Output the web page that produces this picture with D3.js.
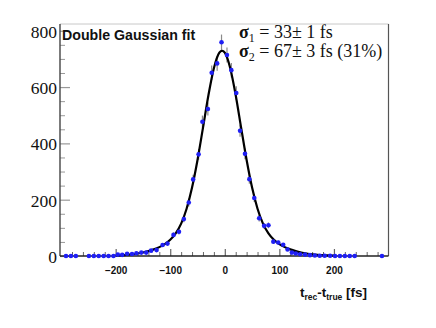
<!DOCTYPE html>
<html><head><meta charset="utf-8">
<script src="https://cdn.jsdelivr.net/npm/d3@7"></script>
<style>
html,body{margin:0;padding:0;background:#fff;}
svg{display:block;}
</style></head>
<body>
<svg id="c" width="436" height="328"></svg>
<script>
// ---- data ----
const binX = [-291,-282,-273,-249,-240,-231,-222,-213,-204,-196,-188,-179,-170,-162,-153,-144,-135,-125,-114,-105,-94,-84,-75,-66,-58,-48,-41,-31,-24,-14,-6,4,12,21,28,37,45,54,63,72,80,89,98,107,115,123,130,138,147,156,165,174,183,193,202,211,220,229,238,288];
const counts = [0,0,0,0,0,0,0,0,0,5,4,8,7,10,12,12,19,21,39,44,75,86,131,190,272,361,477,522,651,684,759,714,660,579,445,363,273,206,134,107,109,51,48,40,23,12,9,6,5,3,2,1,1,1,0,0,0,0,0,0];
const errors = [0,0,0,0,0,0,0,0,0,2.2,2,2.8,2.6,3.2,3.5,3.5,4.4,4.6,6.2,6.6,8.7,9.3,11.4,13.8,16.5,19,21.8,22.8,25.5,26.2,27.5,26.7,25.7,24.1,21.1,19.1,16.5,14.4,11.6,10.3,10.4,7.1,6.9,6.3,4.8,3.5,3,2.4,2.2,1.7,1.4,1,1,1,0,0,0,0,0,0];
const fitX = [-200,-190,-180,-170,-160,-150,-140,-130,-120,-110,-100,-90,-80,-70,-60,-50,-40,-30,-20,-10,-5,0,10,20,30,40,50,60,70,80,90,100,110,120,130,140,150,160,170,180,190,200];
const fitY = [1.9,2.9,4.3,6.3,9.0,12.6,17.4,23.5,31.5,42.2,57.5,80.4,115,168,243,341,455,571,667,722,729,722,667,571,455,341,243,168,115,80.4,57.5,42.2,31.5,23.5,17.4,12.6,9.0,6.3,4.3,2.9,1.9,1.2];
const yMajor = [0,200,400,600,800];
const yMinor = [50,100,150,250,300,350,450,500,550,650,700,750];
const xMajor = [-200,-100,0,100,200];
const xMinor = [-280,-260,-240,-220,-180,-160,-140,-120,-80,-60,-40,-20,20,40,60,80,120,140,160,180,220,240,260,280];
const titleText = "Double Gaussian fit";
const sigma1 = {sub:"1", txt:" = 33\u00B1 1 fs"};
const sigma2 = {sub:"2", txt:" = 67\u00B1 3 fs (31%)"};

// ---- drawing ----
const svg = d3.select("#c");
const L=60, R=388.5, T=24, B=256;
const x = d3.scaleLinear().domain([-302,300]).range([L,R]);
const y = d3.scaleLinear().domain([0,824]).range([B,T]);

// frame
svg.append("line").attr("x1",L).attr("x2",R).attr("y1",T).attr("y2",T).attr("stroke","#c8c8c8").attr("stroke-width",1);
svg.append("line").attr("x1",R).attr("x2",R).attr("y1",T).attr("y2",B).attr("stroke","#555").attr("stroke-width",1.2);

// y axis
const gy = svg.append("g").attr("transform",`translate(${L},0)`);
gy.call(d3.axisLeft(y).tickValues(yMajor).tickSize(-10).tickPadding(14).tickFormat(d3.format("d")));
gy.select(".domain").remove();
gy.selectAll(".tick line").attr("stroke","#999").attr("stroke-width",1.2);
gy.selectAll(".tick text").attr("font-family","'Liberation Serif','Times New Roman',serif").attr("font-size",17.5).attr("fill","#111").attr("dy","0.36em").attr("x",-3);
const gy2 = svg.append("g").attr("transform",`translate(${L},0)`);
gy2.call(d3.axisLeft(y).tickValues(yMinor).tickSize(-5).tickFormat(""));
gy2.select(".domain").remove();
gy2.selectAll(".tick line").attr("stroke","#999").attr("stroke-width",1);
svg.append("line").attr("x1",L).attr("x2",L).attr("y1",T).attr("y2",B).attr("stroke","#444").attr("stroke-width",1.4);

// x axis
const gx = svg.append("g").attr("transform",`translate(0,${B})`);
gx.call(d3.axisBottom(x).tickValues(xMajor).tickSize(-7).tickPadding(11).tickFormat(d3.format("d")));
gx.select(".domain").remove();
gx.selectAll(".tick line").attr("stroke","#666").attr("stroke-width",1.2);
gx.selectAll(".tick text").attr("font-family","'Liberation Sans',Arial,sans-serif").attr("font-size",10).attr("font-weight","bold").attr("fill","#111");
const gx2 = svg.append("g").attr("transform",`translate(0,${B})`);
gx2.call(d3.axisBottom(x).tickValues(xMinor).tickSize(-4).tickFormat(""));
gx2.select(".domain").remove();
gx2.selectAll(".tick line").attr("stroke","#666").attr("stroke-width",1);
svg.append("line").attr("x1",L).attr("x2",R).attr("y1",B).attr("y2",B).attr("stroke","#222").attr("stroke-width",1.4);

// error bars
const pts = binX.map((v,i)=>({x:v,y:counts[i],e:errors[i]}));
svg.append("g").selectAll("line").data(pts.filter(d=>d.e>0)).join("line")
  .attr("x1",d=>x(d.x)).attr("x2",d=>x(d.x))
  .attr("y1",d=>y(d.y+d.e)).attr("y2",d=>y(Math.max(0,d.y-d.e)))
  .attr("stroke","#8a8a8a").attr("stroke-width",1.2);

// fit curve
const fit = fitX.map((v,i)=>[v,fitY[i]]);
svg.append("path").datum(fit)
  .attr("d",d3.line().x(d=>x(d[0])).y(d=>y(d[1])).curve(d3.curveMonotoneX))
  .attr("fill","none").attr("stroke","#000").attr("stroke-width",2.2);

// points
svg.append("g").selectAll("circle").data(pts).join("circle")
  .attr("cx",d=>x(d.x)).attr("cy",d=>y(d.y)).attr("r",2.3).attr("fill","#1f1ff5");

// texts
svg.append("text").attr("x",62).attr("y",39.5).attr("font-family","'Liberation Sans',Arial,sans-serif")
  .attr("font-weight","bold").attr("font-size",14.2).attr("fill","#111").text(titleText);

function sigmaLine(o,yy){
  const t = svg.append("text").attr("x",239).attr("y",yy).attr("font-family","'Liberation Serif','Times New Roman',serif").attr("font-size",18).attr("fill","#111");
  t.append("tspan").attr("font-weight","bold").text("\u03C3");
  t.append("tspan").attr("font-size",12).attr("dy",4).text(o.sub);
  t.append("tspan").attr("dy",-4).text(o.txt);
}
sigmaLine(sigma1,38);
sigmaLine(sigma2,57);

// x-axis title
const xt = svg.append("text").attr("x",300).attr("y",297).attr("font-family","'Liberation Sans',Arial,sans-serif").attr("font-weight","bold").attr("font-size",13.5).attr("fill","#111");
xt.append("tspan").text("t");
xt.append("tspan").attr("font-size",8.5).attr("dy",3).text("rec");
xt.append("tspan").attr("dy",-3).text("-t");
xt.append("tspan").attr("font-size",8.5).attr("dy",3).text("true");
xt.append("tspan").attr("dy",-3).text(" [fs]");
</script>
</body></html>
